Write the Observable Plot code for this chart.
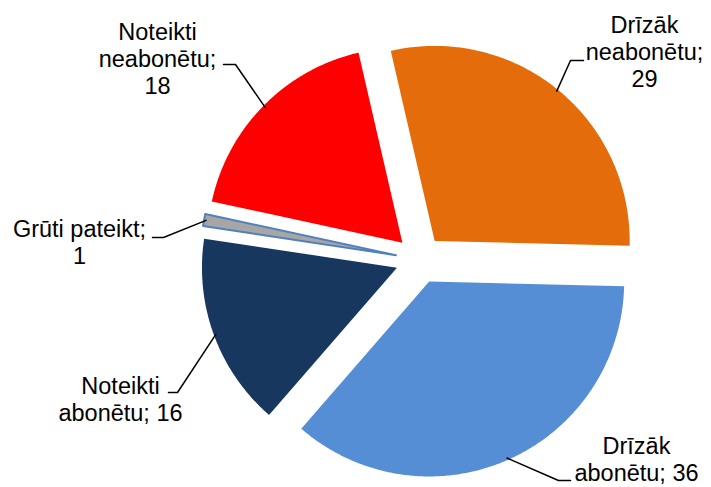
<!DOCTYPE html>
<html>
<head>
<meta charset="utf-8">
<script src="https://cdn.jsdelivr.net/npm/d3@7"></script>
<script src="https://cdn.jsdelivr.net/npm/@observablehq/plot@0.6"></script>
<style>
  body { margin: 0; background: #fff; }
  #chart svg { display: block; }
</style>
</head>
<body>
<div id="chart"></div>
<script>
// ---- data ----
const categories = ["Drīzāk neabonētu", "Drīzāk abonētu", "Noteikti abonētu", "Grūti pateikt", "Noteikti neabonētu"];
const values = [29, 36, 16, 1, 18];
const labels = ["Drīzāk\nneabonētu;\n29", "Drīzāk\nabonētu; 36", "Noteikti\nabonētu; 16", "Grūti pateikt;\n1", "Noteikti\nneabonētu;\n18"];
const colors = ["#E46C0A", "#558ED5", "#17375E", "#A6A6A6", "#FF0000"];
const strokes = ["none", "none", "none", "#4F81BD", "none"];

// ---- layout ----
const W = 711, H = 487;
const cx = 419, cy = 259, R = 195, explode = 24, startDeg = -13;
const labelPos = [[644, 51], [636, 458.5], [120, 398.5], [79, 241], [157, 57.6]];
const leaderStart = [[583, 60], [570, 480], [168, 392], [152, 237], [223, 64]];
const leaderElbow = [[570, 60], [558, 480], [177, 392], [163, 237], [235, 64]];

const rows = categories.map((c, i) => ({category: c, value: values[i], label: labels[i], color: colors[i], stroke: strokes[i], i}));
const rad = Math.PI / 180;
const arcs = d3.pie().sort(null).value(d => d.value)
  .startAngle(startDeg * rad).endAngle((startDeg + 360) * rad)(rows);

const slices = arcs.map(a => {
  const mid = (a.startAngle + a.endAngle) / 2;
  const ox = cx + explode * Math.sin(mid), oy = cy - explode * Math.cos(mid);
  const pts = [{x: ox, y: oy}];
  const n = Math.max(4, Math.ceil((a.endAngle - a.startAngle) / rad * 2));
  for (let k = 0; k <= n; k++) {
    const t = a.startAngle + (a.endAngle - a.startAngle) * k / n;
    pts.push({x: ox + R * Math.sin(t), y: oy - R * Math.cos(t)});
  }
  const i = a.data.i;
  const leader = [
    {x: leaderStart[i][0], y: leaderStart[i][1]},
    {x: leaderElbow[i][0], y: leaderElbow[i][1]},
    {x: ox + (R - 2) * Math.sin(mid), y: oy - (R - 2) * Math.cos(mid)}
  ];
  return {data: a.data, pts, leader};
});

const textRows = rows.map((d, i) => ({text: d.label, x: labelPos[i][0], y: labelPos[i][1]}));

const marks = [];
slices.forEach(s => {
  marks.push(Plot.line(s.pts, {
    x: "x", y: "y", curve: "linear-closed",
    fill: s.data.color, stroke: s.data.stroke, strokeWidth: 2
  }));
});
slices.forEach(s => {
  marks.push(Plot.line(s.leader, {x: "x", y: "y", stroke: "#000", strokeWidth: 1.5}));
});
marks.push(Plot.text(textRows, {
  x: "x", y: "y", text: "text", fontSize: 23.5, lineHeight: 1.15,
  textAnchor: "middle", lineAnchor: "middle", fill: "#000"
}));

const chart = Plot.plot({
  width: W, height: H, margin: 0,
  x: {domain: [0, W], range: [0, W], axis: null},
  y: {domain: [0, H], range: [0, H], axis: null},
  style: {fontFamily: "'Liberation Sans', Arial, sans-serif", background: "#fff"},
  marks
});
document.getElementById("chart").appendChild(chart);
</script>
</body>
</html>
